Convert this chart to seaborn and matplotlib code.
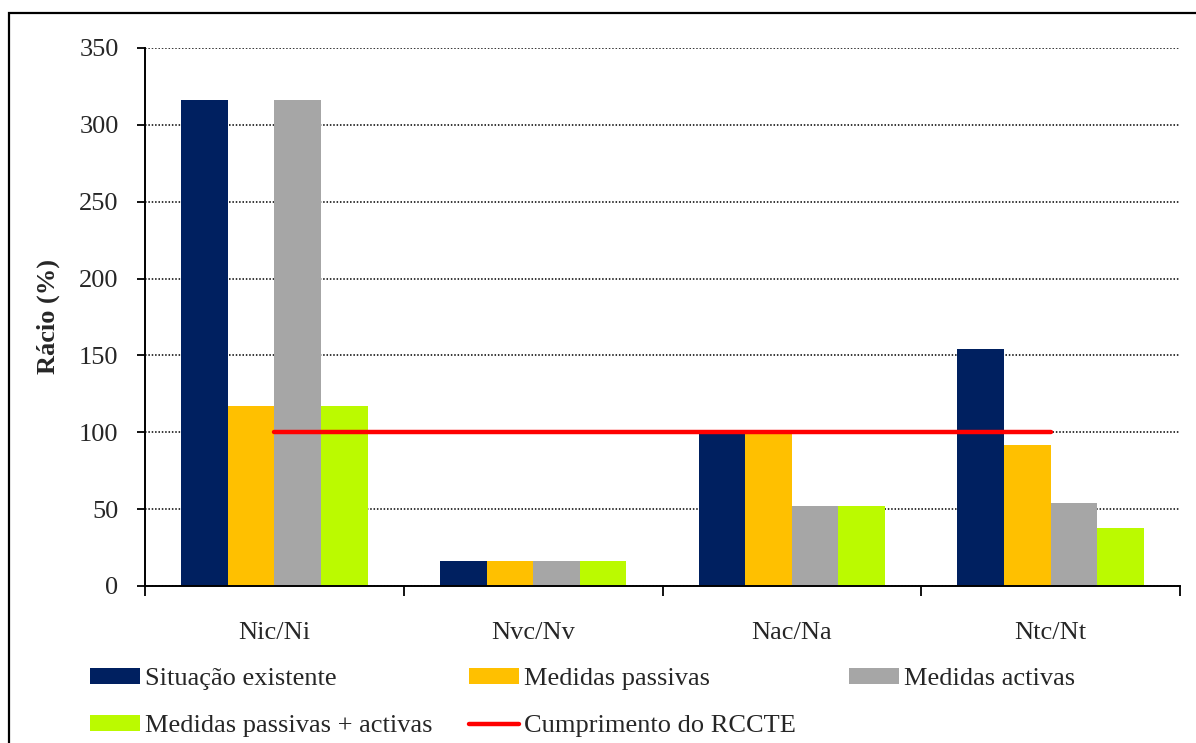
import numpy as np
import pandas as pd
import matplotlib
matplotlib.use("Agg")
import matplotlib.pyplot as plt
from matplotlib.patches import Patch, Rectangle
from matplotlib.lines import Line2D
import seaborn as sns

# Indicators and scenario ratios (%)
categories = ["Nic/Ni", "Nvc/Nv", "Nac/Na", "Ntc/Nt"]
situacao_existente = [316, 16, 99, 154]
medidas_passivas = [117, 16, 99, 92]
medidas_activas = [316, 16, 52, 54]
medidas_passivas_activas = [117, 16, 52, 38]
cumprimento_rccte = [100, 100, 100, 100]

series_names = ["Situação existente", "Medidas passivas", "Medidas activas",
                "Medidas passivas + activas"]
series_values = [situacao_existente, medidas_passivas, medidas_activas,
                 medidas_passivas_activas]
colors = ["#002060", "#FFC000", "#A6A6A6", "#BBFA00"]
line_color = "#FF0000"

yticks = [0, 50, 100, 150, 200, 250, 300, 350]

df = pd.DataFrame({
    "Indicador": np.repeat([categories], len(series_names), axis=0).ravel(),
    "Cenário": np.repeat(series_names, len(categories)),
    "Rácio": np.concatenate(series_values),
})

sns.set_theme(style="white")
plt.rcParams["font.family"] = ["Liberation Serif", "DejaVu Serif"]

FS = 19

fig = plt.figure(figsize=(11.96, 7.43), dpi=100)
ax = fig.add_axes([145 / 1196, 1 - 586 / 743, (1180 - 145) / 1196, (586 - 48) / 743])

sns.barplot(data=df, x="Indicador", y="Rácio", hue="Cenário", order=categories,
            hue_order=series_names, palette=colors, width=0.72, saturation=1,
            linewidth=0, legend=False, ax=ax, zorder=2)

sns.lineplot(x=np.arange(len(categories)), y=cumprimento_rccte, color=line_color,
             linewidth=3.2, ax=ax, zorder=3, legend=False)

ax.set_ylim(0, 350)
ax.set_xlim(-0.5, len(categories) - 0.5)
ax.set_yticks(yticks)
ax.set_yticklabels([str(v) for v in yticks], fontsize=FS)
ax.set_xticks(np.arange(len(categories)))
ax.set_xticklabels(categories, fontsize=FS)
ax.set_xticks(np.arange(-0.5, len(categories)), minor=True)
ax.tick_params(axis="x", which="major", length=0, pad=26)
ax.tick_params(axis="x", which="minor", length=7, width=1.3, color="black",
               direction="out", bottom=True)
ax.tick_params(axis="y", length=6, width=1.3, color="black", direction="out",
               left=True, pad=13)

ax.set_xlabel("")
ax.set_ylabel("Rácio (%)", fontsize=FS, fontweight="bold", labelpad=14)

ax.yaxis.grid(True, color="black", linestyle=(0, (1, 1.2)), linewidth=1.1, zorder=0)
ax.set_axisbelow(True)
for side in ["top", "right"]:
    ax.spines[side].set_visible(False)
for side in ["left", "bottom"]:
    ax.spines[side].set_color("black")
    ax.spines[side].set_linewidth(1.4)

# Outer chart border
fig.patches.append(Rectangle((9 / 1196, -0.05), 1.2, 1 - 13 / 743 + 0.05,
                             transform=fig.transFigure, fill=False,
                             edgecolor="black", linewidth=1.6, zorder=0))

# Legend laid out in three fixed columns
handles = [Patch(facecolor=c, edgecolor="none") for c in colors]
line_handle = Line2D([], [], color=line_color, linewidth=3.2)
columns = [
    ([handles[0], handles[3]], [series_names[0], series_names[3]], 90),
    ([handles[1], line_handle], [series_names[1], "Cumprimento do RCCTE"], 469),
    ([handles[2]], [series_names[2]], 849),
]
for hs, labels, x_px in columns:
    fig.legend(hs, labels, loc="upper left",
               bbox_to_anchor=(x_px / 1196, 1 - 668 / 743),
               frameon=False, fontsize=FS, handlelength=1.9, handleheight=0.54,
               handletextpad=0.2, labelspacing=0.95, borderpad=0,
               borderaxespad=0)

fig.savefig("out.png", dpi=100)
